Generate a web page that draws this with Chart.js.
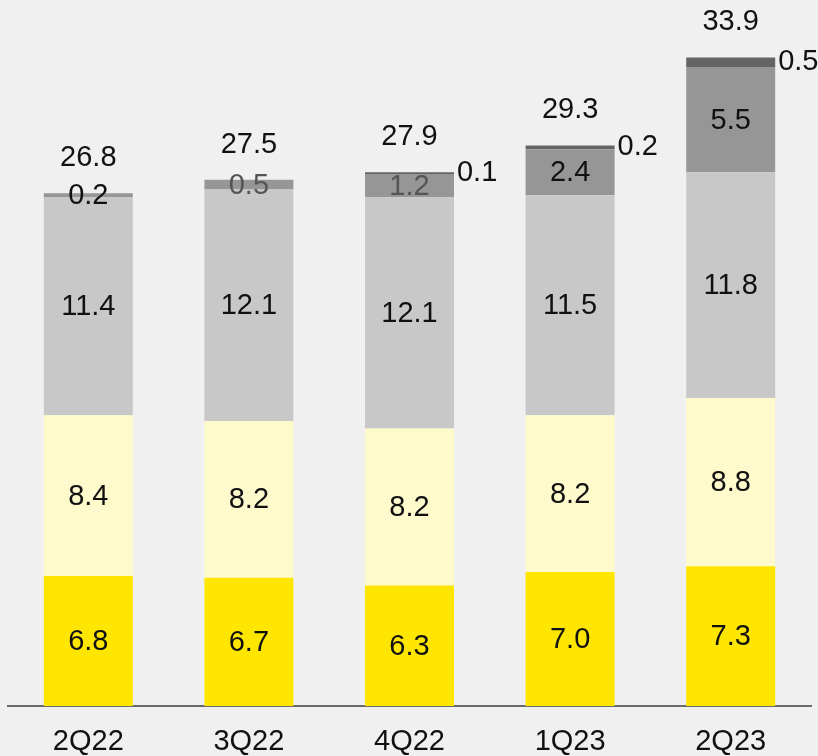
<!DOCTYPE html>
<html>
<head>
<meta charset="utf-8">
<script src="https://cdn.jsdelivr.net/npm/chart.js@4/dist/chart.umd.min.js"></script>
<style>
html,body{margin:0;padding:0;background:#f0f0f0;}
canvas{display:block;}
</style>
</head>
<body>
<canvas id="c" width="818" height="756"></canvas>
<script>
const categories = ['2Q22', '3Q22', '4Q22', '1Q23', '2Q23'];
const seriesYellow = [6.8, 6.7, 6.3, 7.0, 7.3];
const seriesLightYellow = [8.4, 8.2, 8.2, 8.2, 8.8];
const seriesLightGray = [11.4, 12.1, 12.1, 11.5, 11.8];
const seriesMidGray = [0.2, 0.5, 1.2, 2.4, 5.5];
const seriesDarkGray = [0, 0, 0.1, 0.2, 0.5];
const totals = [26.8, 27.5, 27.9, 29.3, 33.9];

const FONT = '"Liberation Sans", Arial, sans-serif';
const midGrayLabelColors = ['#111', '#555', '#555', '#111', '#111'];

const bgPlugin = {
  id: 'bg',
  beforeDraw(chart) {
    const ctx = chart.ctx;
    ctx.save();
    ctx.fillStyle = '#f0f0f0';
    ctx.fillRect(0, 0, chart.width, chart.height);
    ctx.restore();
  }
};

const labelPlugin = {
  id: 'labels',
  afterDatasetsDraw(chart) {
    const ctx = chart.ctx;
    ctx.save();
    ctx.font = '29px ' + FONT;
    chart.data.datasets.forEach((ds, di) => {
      const meta = chart.getDatasetMeta(di);
      meta.data.forEach((el, i) => {
        const v = ds.data[i];
        if (!v) return;
        const p = el.getProps(['x', 'y', 'base', 'width'], true);
        const cy = (p.y + p.base) / 2;
        const txt = v.toFixed(1);
        if (di === 4) {
          ctx.textAlign = 'left';
          ctx.textBaseline = 'middle';
          ctx.fillStyle = '#111';
          ctx.fillText(txt, p.x + p.width / 2 + 3, cy);
        } else {
          ctx.textAlign = 'center';
          ctx.textBaseline = 'middle';
          ctx.fillStyle = di === 3 ? midGrayLabelColors[i] : '#111';
          ctx.fillText(txt, p.x, cy + 1);
        }
      });
    });
    const ys = chart.scales.y;
    const xs = chart.scales.x;
    ctx.textAlign = 'center';
    ctx.textBaseline = 'middle';
    ctx.fillStyle = '#111';
    totals.forEach((t, i) => {
      ctx.fillText(t.toFixed(1), xs.getPixelForValue(i), ys.getPixelForValue(t) - 35);
    });
    ctx.restore();
  }
};

new Chart(document.getElementById('c'), {
  type: 'bar',
  data: {
    labels: categories,
    datasets: [
      { data: seriesYellow, backgroundColor: '#ffe600' },
      { data: seriesLightYellow, backgroundColor: '#fffacc' },
      { data: seriesLightGray, backgroundColor: '#c8c8c8' },
      { data: seriesMidGray, backgroundColor: '#969696' },
      { data: seriesDarkGray, backgroundColor: '#646464' }
    ].map(d => Object.assign(d, { barPercentage: 0.554, categoryPercentage: 1, borderWidth: 0 }))
  },
  options: {
    responsive: false,
    animation: false,
    layout: { padding: { left: 8, right: 7, top: 0, bottom: 0 } },
    plugins: { legend: { display: false }, tooltip: { enabled: false } },
    scales: {
      x: {
        stacked: true,
        grid: { display: false, drawTicks: false },
        border: { display: true, color: '#6a6a6a', width: 2 },
        ticks: { color: '#111', font: { size: 29, family: FONT }, padding: 19, maxRotation: 0 },
        afterFit(scale) { scale.height = 50; }
      },
      y: {
        stacked: true,
        display: false,
        min: 0,
        max: 36.9
      }
    }
  },
  plugins: [bgPlugin, labelPlugin]
});
</script>
</body>
</html>
